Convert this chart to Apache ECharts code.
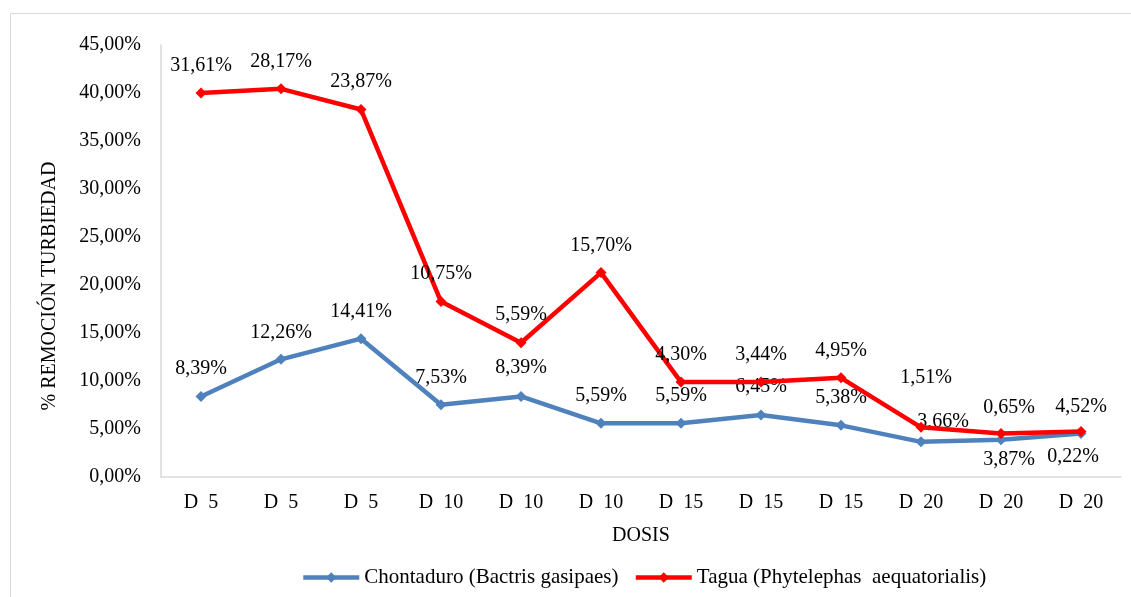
<!DOCTYPE html>
<html>
<head>
<meta charset="utf-8">
<script src="https://cdn.jsdelivr.net/npm/echarts@6/dist/echarts.min.js"></script>
<style>
html,body{margin:0;padding:0;background:#fff;}
#chart{width:1131px;height:597px;}
</style>
</head>
<body>
<div id="chart"></div>
<script>
// ---- data ----
const categories = ["D  5", "D  5", "D  5", "D  10", "D  10", "D  10", "D  15", "D  15", "D  15", "D  20", "D  20", "D  20"];
const chontaduro = [8.39, 12.26, 14.41, 7.53, 8.39, 5.59, 5.59, 6.45, 5.38, 3.66, 3.87, 4.52];
const tagua = [31.61, 28.17, 23.87, 10.75, 5.59, 15.70, 4.30, 3.44, 4.95, 1.51, 0.65, 0.22];
const seriesNames = ["Chontaduro (Bactris gasipaes)", "Tagua (Phytelephas  aequatorialis)"];
const yTicks = {min: 0, max: 45, interval: 5};

// ---- layout (label placements, px) ----
const blueLabelOffset = [[0,-28],[0,-27],[0,-27],[0,-27],[0,-29],[0,-28],[0,-28],[0,-28],[0,-28],[22,-20],[8,20],[0,-27]];
const redLabelOffset  = [[0,-27],[0,-27],[0,-28],[0,-28],[0,-28],[0,-27],[0,-27],[0,-27],[0,-27],[5,-50],[8,-26],[-8,25]];

const FONT = 'Liberation Serif';
const fmt = v => Number(v).toFixed(2).replace('.', ',') + '%';

function mkData(vals, offs) {
  return vals.map((v, i) => ({ value: v, label: { offset: offs[i] } }));
}

const chart = echarts.init(document.getElementById('chart'), null, {renderer: 'canvas'});
chart.setOption({
  animation: false,
  backgroundColor: '#fff',
  textStyle: { fontFamily: FONT, color: '#000' },
  grid: { left: 161, right: 10, top: 45, bottom: 120, containLabel: false },
  legend: {
    left: 296, top: 562,
    itemWidth: 56, itemHeight: 13, itemGap: 15,
    lineStyle: { width: 4.5 },
    textStyle: { fontFamily: FONT, fontSize: 21, color: '#000' },
    data: seriesNames
  },
  xAxis: {
    type: 'category',
    data: categories,
    boundaryGap: true,
    name: 'DOSIS',
    nameLocation: 'middle',
    nameGap: 49,
    nameTextStyle: { fontFamily: FONT, fontSize: 20, color: '#000' },
    axisLine: { lineStyle: { color: '#D9D9D9', width: 1.5 } },
    axisTick: { show: false },
    axisLabel: { fontFamily: FONT, fontSize: 20, color: '#000', margin: 16, interval: 0 },
    splitLine: { show: false }
  },
  yAxis: {
    type: 'value',
    min: yTicks.min, max: yTicks.max, interval: yTicks.interval,
    axisLine: { show: true, lineStyle: { color: '#D9D9D9', width: 1.5 } },
    axisTick: { show: false },
    splitLine: { show: false },
    axisLabel: { fontFamily: FONT, fontSize: 20, color: '#000', margin: 20, formatter: fmt }
  },
  graphic: [
    { type: 'rect', shape: { x: 10.5, y: 13.5, width: 1200, height: 700 }, style: { fill: 'none', stroke: '#D9D9D9', lineWidth: 1 }, silent: true },
    { type: 'text', x: 50, y: 286, rotation: Math.PI / 2,
      style: { text: '% REMOCIÓN TURBIEDAD', font: '20px "Liberation Serif"', fill: '#000', align: 'center', verticalAlign: 'middle' } }
  ],
  series: [
    {
      name: seriesNames[0], type: 'line', stack: 'total',
      data: mkData(chontaduro, blueLabelOffset),
      symbol: 'diamond', symbolSize: 11,
      itemStyle: { color: '#4F81BD' },
      lineStyle: { color: '#4F81BD', width: 4.5 },
      label: { show: true, position: 'inside', fontFamily: FONT, fontSize: 20, color: '#000', formatter: p => fmt(p.value) },
      z: 2
    },
    {
      name: seriesNames[1], type: 'line', stack: 'total',
      data: mkData(tagua, redLabelOffset),
      symbol: 'diamond', symbolSize: 11,
      itemStyle: { color: '#FF0000' },
      lineStyle: { color: '#FF0000', width: 4.5 },
      label: { show: true, position: 'inside', fontFamily: FONT, fontSize: 20, color: '#000', formatter: p => fmt(p.value) },
      z: 3
    }
  ]
});
</script>
</body>
</html>
